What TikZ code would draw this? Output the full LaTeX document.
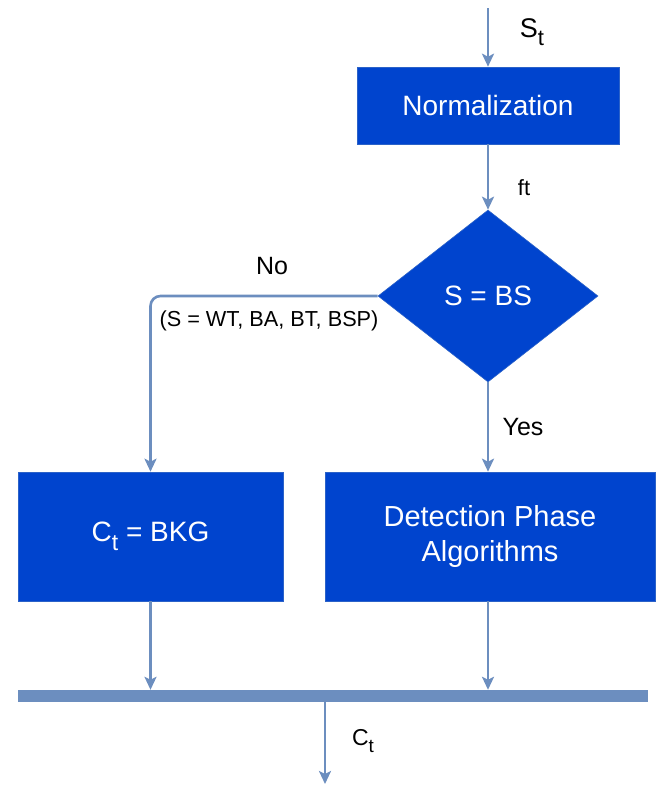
\documentclass[tikz,border=0pt]{standalone}
\usepackage{fontspec}
\setmainfont{Liberation Sans}
\usetikzlibrary{shapes.geometric,arrows.meta}
\definecolor{boxblue}{RGB}{0,68,206}
\definecolor{lineblue}{RGB}{108,142,191}
\newcommand{\subtee}{\raisebox{-0.3em}{\scalebox{0.82}{t}}}
\tikzset{
  blockbox/.style={draw=lineblue!40!boxblue,line width=0.6pt,fill=boxblue,text=white,inner sep=0pt,font=\fontsize{28}{35}\selectfont,align=center},
  conn/.style={draw=lineblue,line width=2.6pt,-{Stealth[length=13pt,width=12pt,inset=3pt]}},
  lbl/.style={font=\fontsize{25}{28}\selectfont,inner sep=0pt}
}
\begin{document}
\begin{tikzpicture}[x=1pt,y=-1pt]
\useasboundingbox (0,0) rectangle (659,785);
\node[blockbox,minimum width=262pt,minimum height=77pt] (norm) at (488,105.5) {Normalization};
\node[blockbox,diamond,minimum width=220pt,minimum height=172pt] (dia) at (488,296) {S = BS};
\node[blockbox,minimum width=265pt,minimum height=129pt] (left) at (150.5,536.5) {C\subtee{} = BKG};
\node[blockbox,minimum width=330pt,minimum height=129pt,font=\fontsize{29}{35}\selectfont] (right) at (490,536.5) {Detection Phase\\Algorithms};
\node[fill=lineblue,minimum width=630pt,minimum height=12pt,inner sep=0pt] (bar) at (333,696) {};
\coordinate (top) at (488,8);
\coordinate (out) at (325,784);
\draw[conn] (top) -- (norm.north);
\draw[conn] (norm.south) -- (dia.north);
\draw[conn] (dia.south) -- (dia.south |- right.north);
\draw[conn,rounded corners=10pt] (dia.west) -| (left.north);
\draw[conn] (left.south) -- (left.south |- bar.north);
\draw[conn] (right.south -| dia.south) -- (dia.south |- bar.north);
\draw[conn] (bar.south -| out) -- (out);
\node[lbl] (st) at (532,32) {\fontsize{27}{30}\selectfont S\subtee};
\node[lbl] (ft) at (524,188) {\fontsize{22}{26}\selectfont ft};
\node[lbl] (no) at (272,266) {No};
\node[lbl] (cond) at (269,321) {\fontsize{21.7}{24}\selectfont (S = WT, BA, BT, BSP)};
\node[lbl] (yes) at (523,427) {Yes};
\node[lbl] (ct) at (363,741) {\fontsize{23}{26}\selectfont C\subtee};
\end{tikzpicture}
\end{document}
